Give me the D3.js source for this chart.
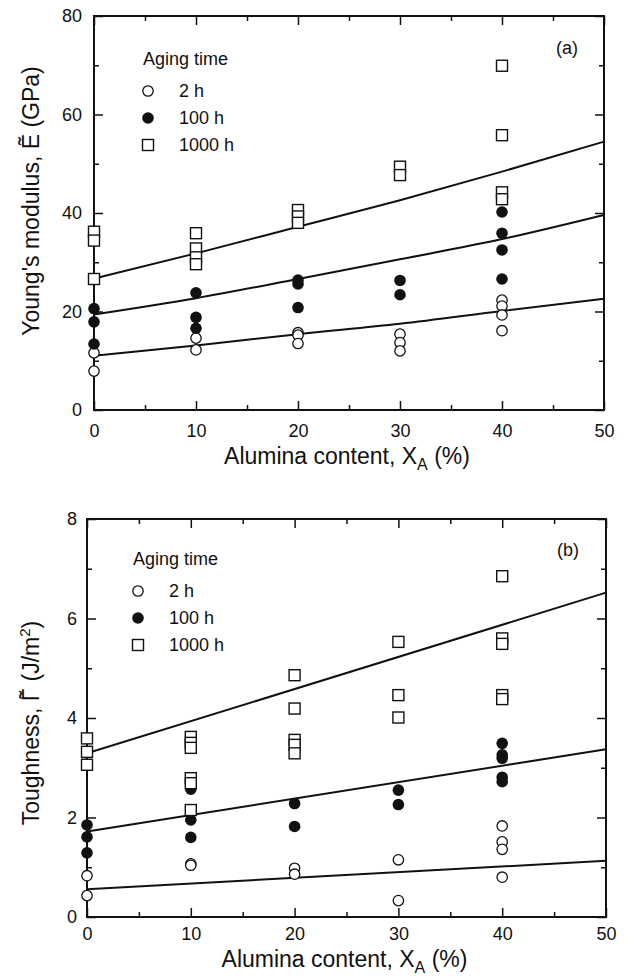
<!DOCTYPE html>
<html>
<head>
<meta charset="utf-8">
<script src="https://cdn.jsdelivr.net/npm/d3@7"></script>
<style>
  html, body { margin: 0; padding: 0; background: #fff; }
  svg { display: block; }
  text { font-family: "Liberation Sans", Arial, Helvetica, sans-serif; fill: #111; }
</style>
</head>
<body>
<svg id="chart" width="627" height="980"></svg>
<script>
// ---------- DATA ----------
const xTicks = [0, 10, 20, 30, 40, 50];
const xMinorTicks = [5, 15, 25, 35, 45];
const legendLabels = ["2 h", "100 h", "1000 h"];

// Panel (a): Young's modulus (GPa) vs alumina content (%)
const eTicks = [0, 20, 40, 60, 80];
const eMinorTicks = [10, 30, 50, 70];
const modulus2h = [[0,11.6],[0,7.9],[10,14.6],[10,12.2],[20,15.7],[20,15.2],[20,13.5],[30,15.4],[30,13.7],[30,12.0],[40,22.3],[40,21.1],[40,19.3],[40,16.1]];
const modulus100h = [[0,20.6],[0,17.9],[0,13.4],[10,23.8],[10,18.8],[10,16.6],[20,26.4],[20,25.6],[20,20.8],[30,26.3],[30,23.4],[40,40.2],[40,35.9],[40,32.5],[40,26.6]];
const modulus1000h = [[0,36.2],[0,34.4],[0,26.6],[10,35.9],[10,32.8],[10,31.0],[10,29.6],[20,40.6],[20,39.3],[20,38.0],[30,49.4],[30,47.7],[40,69.9],[40,55.8],[40,44.2],[40,42.8]];
const fitX = [0, 10, 20, 30, 40, 50];
const fitModulus2h = [11.0, 13.1, 15.4, 17.5, 20.1, 22.6];
const fitModulus100h = [19.4, 22.7, 26.6, 30.6, 34.7, 39.6];
const fitModulus1000h = [26.7, 31.8, 37.2, 42.6, 48.4, 54.5];

// Panel (b): Toughness (J/m^2) vs alumina content (%)
const gTicks = [0, 2, 4, 6, 8];
const gMinorTicks = [1, 3, 5, 7];
const tough2h = [[0,0.83],[0,0.43],[10,1.07],[10,1.04],[20,0.98],[20,0.86],[30,1.15],[30,0.33],[40,1.83],[40,1.51],[40,1.36],[40,0.80]];
const tough100h = [[0,1.85],[0,1.61],[0,1.29],[10,2.57],[10,1.95],[10,1.60],[20,2.28],[20,1.82],[30,2.55],[30,2.26],[40,3.49],[40,3.26],[40,3.19],[40,2.81],[40,2.72]];
const tough1000h = [[0,3.59],[0,3.32],[0,3.06],[10,3.62],[10,3.50],[10,3.40],[10,2.79],[10,2.69],[10,2.15],[20,4.86],[20,4.19],[20,3.56],[20,3.46],[20,3.29],[30,5.53],[30,4.46],[30,4.01],[40,6.85],[40,5.60],[40,5.49],[40,4.46],[40,4.38]];
const fitLinX = [0, 50];
const fitTough2h = [0.56, 1.13];
const fitTough100h = [1.72, 3.37];
const fitTough1000h = [3.29, 6.52];

// ---------- DRAWING ----------
const svg = d3.select("#chart");
const symbolTypes = ["open", "filled", "square"];

function drawMarker(g, type, cx, cy) {
  if (type === "open") {
    g.append("circle").attr("cx", cx).attr("cy", cy).attr("r", 5.2)
      .attr("fill", "#fff").attr("stroke", "#111").attr("stroke-width", 1.3);
  } else if (type === "filled") {
    g.append("circle").attr("cx", cx).attr("cy", cy).attr("r", 5.8)
      .attr("fill", "#111").attr("stroke", "none");
  } else {
    const s = 11;
    g.append("rect").attr("x", cx - s/2).attr("y", cy - s/2).attr("width", s).attr("height", s)
      .attr("fill", "#fff").attr("stroke", "#111").attr("stroke-width", 1.4);
  }
}

function panel(cfg) {
  const x = d3.scaleLinear().domain([0, 50]).range([cfg.left, cfg.right]);
  const y = d3.scaleLinear().domain(cfg.yDomain).range([cfg.bottom, cfg.top]);
  const g = svg.append("g");

  const styleAxis = sel => {
    sel.select(".domain").remove();
    sel.selectAll(".tick line").attr("stroke", "#111").attr("stroke-width", 1.5);
    sel.selectAll("text").style("font-size", "18px").attr("fill", "#111");
  };

  // bottom axis major + labels
  g.append("g").attr("transform", `translate(0,${cfg.bottom})`)
    .call(d3.axisBottom(x).tickValues(xTicks).tickSizeInner(-9).tickSizeOuter(0).tickPadding(cfg.xPad).tickFormat(d3.format("d")))
    .call(styleAxis);
  g.append("g").attr("transform", `translate(0,${cfg.bottom})`)
    .call(d3.axisBottom(x).tickValues(xMinorTicks).tickSizeInner(-5).tickSizeOuter(0).tickFormat(""))
    .call(styleAxis);
  // top axis
  g.append("g").attr("transform", `translate(0,${cfg.top})`)
    .call(d3.axisTop(x).tickValues(xTicks).tickSizeInner(-9).tickSizeOuter(0).tickFormat(""))
    .call(styleAxis);
  g.append("g").attr("transform", `translate(0,${cfg.top})`)
    .call(d3.axisTop(x).tickValues(xMinorTicks).tickSizeInner(-5).tickSizeOuter(0).tickFormat(""))
    .call(styleAxis);
  // left axis
  g.append("g").attr("transform", `translate(${cfg.left},0)`)
    .call(d3.axisLeft(y).tickValues(cfg.yTicks).tickSizeInner(-9).tickSizeOuter(0).tickPadding(cfg.yPad).tickFormat(d3.format("d")))
    .call(styleAxis);
  g.append("g").attr("transform", `translate(${cfg.left},0)`)
    .call(d3.axisLeft(y).tickValues(cfg.yMinor).tickSizeInner(-5).tickSizeOuter(0).tickFormat(""))
    .call(styleAxis);
  // right axis
  g.append("g").attr("transform", `translate(${cfg.right},0)`)
    .call(d3.axisRight(y).tickValues(cfg.yTicks).tickSizeInner(-9).tickSizeOuter(0).tickFormat(""))
    .call(styleAxis);
  g.append("g").attr("transform", `translate(${cfg.right},0)`)
    .call(d3.axisRight(y).tickValues(cfg.yMinor).tickSizeInner(-5).tickSizeOuter(0).tickFormat(""))
    .call(styleAxis);

  // frame
  g.append("rect").attr("x", cfg.left).attr("y", cfg.top)
    .attr("width", cfg.right - cfg.left).attr("height", cfg.bottom - cfg.top)
    .attr("fill", "none").attr("stroke", "#111").attr("stroke-width", 2);

  // fit lines
  const line = d3.line().x(d => x(d[0])).y(d => y(d[1])).curve(d3.curveMonotoneX);
  cfg.fits.forEach(f => {
    const pts = f.xs.map((xv, i) => [xv, f.ys[i]]);
    g.append("path").attr("d", line(pts)).attr("fill", "none")
      .attr("stroke", "#111").attr("stroke-width", 2);
  });

  // markers
  cfg.series.forEach((s, i) => {
    const sg = g.append("g");
    s.forEach(d => drawMarker(sg, symbolTypes[i], x(d[0]), y(d[1])));
  });

  // legend
  g.append("text").attr("x", cfg.legX).attr("y", cfg.legY).style("font-size", "18px").text("Aging time");
  legendLabels.forEach((lab, i) => {
    const cy = cfg.legY + 26 + i * 27;
    drawMarker(g, symbolTypes[i], cfg.legX + 5, cy);
    g.append("text").attr("x", cfg.legX + 36).attr("y", cy).attr("dy", "0.36em")
      .style("font-size", "18px").text(lab);
  });

  // panel tag
  g.append("text").attr("x", cfg.tagX).attr("y", cfg.tagY).attr("text-anchor", "middle")
    .style("font-size", "18px").text(cfg.tag);

  // x title
  const xt = g.append("text").attr("x", (cfg.left + cfg.right) / 2 - 2).attr("y", cfg.xTitleY)
    .attr("text-anchor", "middle").style("font-size", "23px");
  xt.append("tspan").text("Alumina content, X");
  xt.append("tspan").attr("dy", 6).style("font-size", "16px").text("A");
  xt.append("tspan").attr("dy", -6).text(" (%)");

  // y title
  const yt = g.append("text")
    .attr("transform", `translate(${cfg.yTitleX},${cfg.yTitleY}) rotate(-90)`)
    .attr("text-anchor", "middle").style("font-size", "23px");
  cfg.yTitle(yt);
}

panel({
  left: 94, right: 604, top: 16, bottom: 410,
  yDomain: [0, 80], yTicks: eTicks, yMinor: eMinorTicks,
  xPad: 14, yPad: 12,
  series: [modulus2h, modulus100h, modulus1000h],
  fits: [
    { xs: fitX, ys: fitModulus2h },
    { xs: fitX, ys: fitModulus100h },
    { xs: fitX, ys: fitModulus1000h }
  ],
  legX: 143, legY: 65,
  tag: "(a)", tagX: 567, tagY: 54,
  xTitleY: 464,
  yTitleX: 39, yTitleY: 201,
  yTitle: t => { t.text("Young's modulus,  \u1EBC (GPa)"); }
});

panel({
  left: 87, right: 606, top: 519, bottom: 917,
  yDomain: [0, 8], yTicks: gTicks, yMinor: gMinorTicks,
  xPad: 10, yPad: 10,
  series: [tough2h, tough100h, tough1000h],
  fits: [
    { xs: fitLinX, ys: fitTough2h },
    { xs: fitLinX, ys: fitTough100h },
    { xs: fitLinX, ys: fitTough1000h }
  ],
  legX: 133, legY: 565,
  tag: "(b)", tagX: 568, tagY: 556,
  xTitleY: 967,
  yTitleX: 39, yTitleY: 723,
  yTitle: t => {
    t.append("tspan").text("Toughness, \u0393");
    t.append("tspan").attr("dx", -10).attr("dy", -3).text("\u02DC");
    t.append("tspan").attr("dx", 3).attr("dy", 3).text(" (J/m");
    t.append("tspan").attr("dy", -9).style("font-size", "15px").text("2");
    t.append("tspan").attr("dy", 9).text(")");
  }
});
</script>
</body>
</html>
